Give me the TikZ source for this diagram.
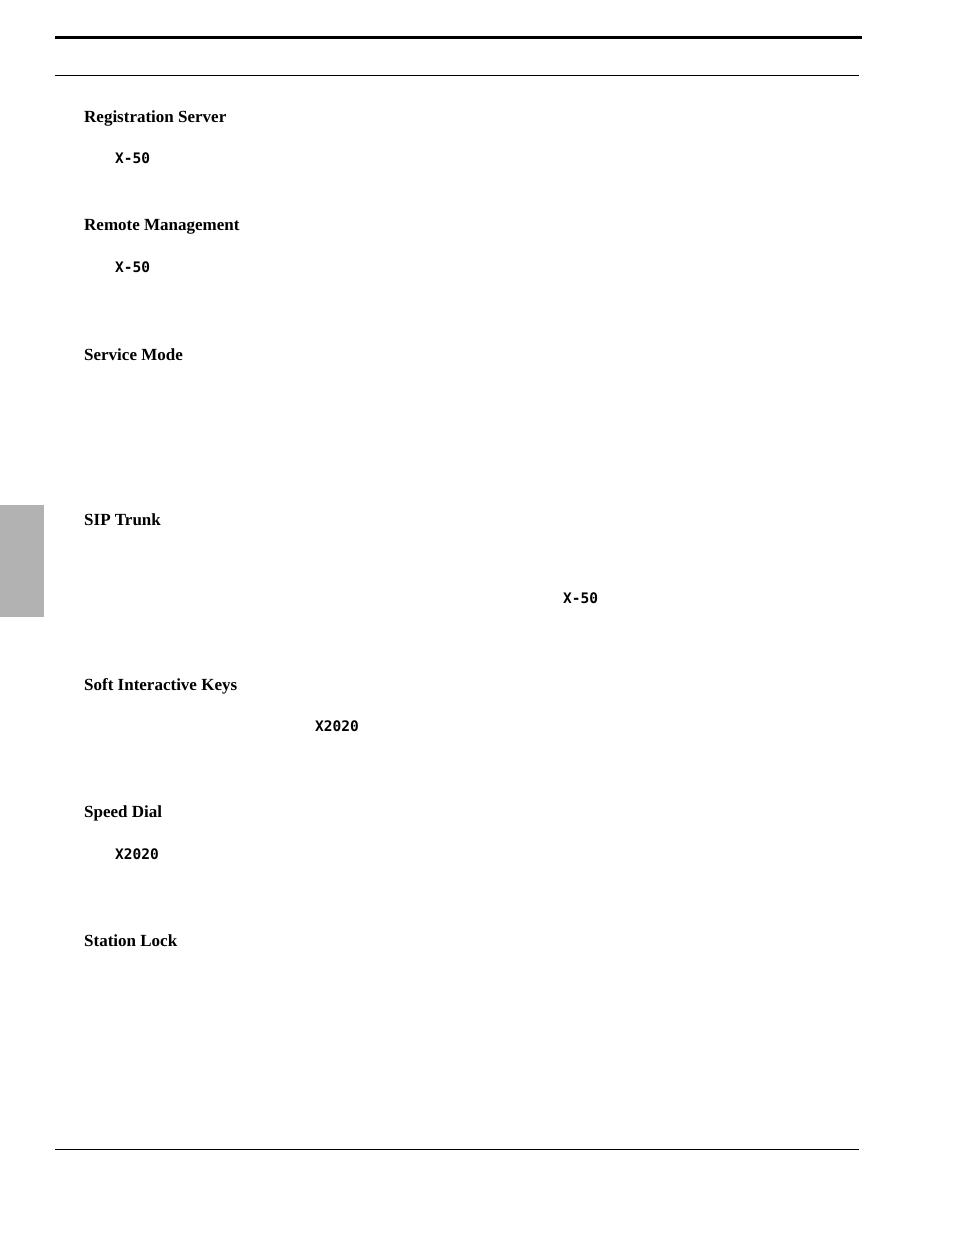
\documentclass[tikz,border=0pt]{standalone}
\usepackage{fontspec}
\setmainfont{Liberation Serif}
\setmonofont{DejaVu Sans Mono}
\begin{document}
\begin{tikzpicture}[x=1pt,y=-1pt,
  head/.style={anchor=west,inner sep=0pt,font=\fontsize{17}{20}\selectfont\bfseries},
  code/.style={anchor=west,inner sep=0pt,font=\fontsize{14.5}{17}\selectfont\ttfamily\bfseries}]
\useasboundingbox (0,0) rectangle (954,1235);
\draw[line width=3pt] (55,37) -- (862,37);
\draw[line width=1pt] (55,75) -- (859,75);
\draw[line width=1pt] (55,1149) -- (859,1149);
\fill[black!30] (0,505) rectangle (44,617);
\node[head] (h1) at (84,118) {Registration Server};
\node[code] (c1) at (115,158) {X-50};
\node[head] (h2) at (84,227) {Remote Management};
\node[code] (c2) at (115,267) {X-50};
\node[head] (h3) at (84,355) {Service Mode};
\node[head] (h4) at (84,520) {SIP Trunk};
\node[code] (c4) at (563,598) {X-50};
\node[head] (h5) at (84,686) {Soft Interactive Keys};
\node[code] (c5) at (315,726) {X2020};
\node[head] (h6) at (84,813) {Speed Dial};
\node[code] (c6) at (115,854) {X2020};
\node[head] (h7) at (84,941) {Station Lock};
\end{tikzpicture}
\end{document}
